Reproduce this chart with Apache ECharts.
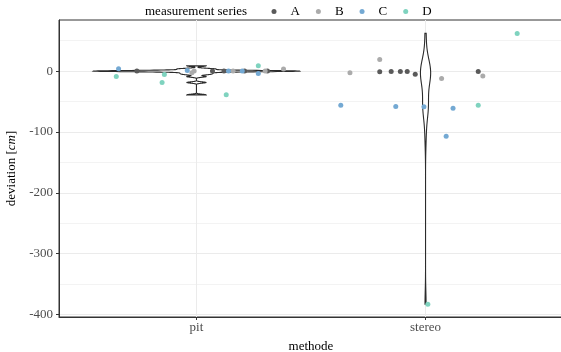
<!DOCTYPE html>
<html><head><meta charset="utf-8">
<script src="https://cdn.jsdelivr.net/npm/echarts@6/dist/echarts.min.js"></script>
<style>html,body{margin:0;padding:0;background:#fff}#c{width:561px;height:352px}</style>
</head><body><div id="c"></div>
<script>
const categories = ['pit', 'stereo'];
const seriesNames = ['A', 'B', 'C', 'D'];
const yTicks = [-400, -300, -200, -100, 0];
const yMinorTicks = [-350, -250, -150, -50, 50];

// method index (0 = pit, 1 = stereo), horizontal jitter (category units), deviation [cm]
const aMethod = [0, 0, 0, 0, 0, 1, 1, 1, 1, 1, 1];
const aJitter = [-0.26, 0.07, 0.12, 0.21, 0.31, -0.20, -0.15, -0.11, -0.08, -0.045, 0.23];
const aValue  = [0, 0, 0, 0, 0, -1, -0.7, -0.7, -0.7, -5, -0.7];

const bMethod = [0, 0, 0, 0, 0, 1, 1, 1, 1];
const bJitter = [-0.01, -0.02, 0.16, 0.30, 0.38, -0.33, -0.20, 0.07, 0.25];
const bValue  = [0, -2.5, 0, 0, 3.3, -2.8, 19, -12, -8];

const cMethod = [0, 0, 0, 0, 0, 1, 1, 1, 1, 1];
const cJitter = [-0.34, -0.04, 0.14, 0.20, 0.27, -0.37, -0.13, -0.007, 0.12, 0.09];
const cValue  = [3.8, 1, 0, 0, -4, -56, -58, -58.5, -61, -107];

const dMethod = [0, 0, 0, 0, 0, 1, 1, 1];
const dJitter = [-0.35, -0.14, -0.15, 0.13, 0.27, 0.40, 0.23, 0.01];
const dValue  = [-9, -5.6, -18.7, -39, 8.7, 62, -56, -383];

const colors = ['#5a5a5a', '#ababab', '#74a9d3', '#7fd3bf'];
const FONT = "'Liberation Serif', 'Times New Roman', serif";

const allSeries = [
  [aMethod, aJitter, aValue],
  [bMethod, bJitter, bValue],
  [cMethod, cJitter, cValue],
  [dMethod, dJitter, dValue]
];

// group values per method for the violins
const groups = categories.map(() => []);
allSeries.forEach(([m, j, v]) => m.forEach((g, i) => groups[g].push(v[i])));

function q7(s, p) { const h = (s.length - 1) * p, lo = Math.floor(h); const hi = Math.min(lo + 1, s.length - 1); return s[lo] + (h - lo) * (s[hi] - s[lo]); }
function nrd0(x) {
  const n = x.length, mean = x.reduce((a, b) => a + b, 0) / n;
  const sd = Math.sqrt(x.reduce((a, b) => a + (b - mean) * (b - mean), 0) / (n - 1));
  const s = [...x].sort((a, b) => a - b);
  let lo = Math.min(sd, (q7(s, 0.75) - q7(s, 0.25)) / 1.34);
  if (!lo) lo = sd || Math.abs(s[0]) || 1;
  return 0.9 * lo * Math.pow(n, -0.2);
}
function kde(x) {
  const bw = nrd0(x), mn = Math.min(...x), mx = Math.max(...x), out = [];
  for (let i = 0; i < 512; i++) {
    const y = mn + (mx - mn) * i / 511; let d = 0;
    for (const v of x) { const z = (y - v) / bw; d += Math.exp(-0.5 * z * z); }
    out.push([y, d / (x.length * bw * Math.sqrt(2 * Math.PI))]);
  }
  return out;
}
const dens = groups.map(kde);
const gmax = Math.max(...dens.map(d => Math.max(...d.map(p => p[1]))));
const outlines = dens.map((d, g) => {
  const c = g + 1, right = [], left = [];
  d.forEach(([y, v]) => { const w = v / gmax * 0.45; right.push([c + w, y]); left.push([c - w, y]); });
  return right.concat(left.reverse());
});

const chart = echarts.init(document.getElementById('c'), null, { renderer: 'canvas' });
const series = [{
  type: 'custom',
  xAxisIndex: 0, yAxisIndex: 0,
  data: categories.map((c, i) => [i + 1, 0]),
  z: 2,
  renderItem(params, api) {
    const pts = outlines[params.dataIndex].map(p => api.coord(p));
    return { type: 'polygon', shape: { points: pts }, style: { fill: '#ffffff', stroke: '#2b2b2b', lineWidth: 1.1 } };
  }
}];
allSeries.forEach(([m, j, v], k) => {
  series.push({
    name: seriesNames[k], type: 'scatter', xAxisIndex: 0, yAxisIndex: 0, z: 3,
    symbol: 'circle', symbolSize: 5,
    itemStyle: { color: colors[k], opacity: 1 },
    data: m.map((g, i) => [g + 1 + j[i], v[i]])
  });
});

chart.setOption({
  animation: false,
  backgroundColor: '#ffffff',
  textStyle: { fontFamily: FONT },
  grid: { left: 59, right: -2, top: 20, bottom: 35, containLabel: false, outerBoundsMode: 'none',
          show: true, borderColor: '#333333', borderWidth: 1, backgroundColor: 'transparent' },
  title: { text: 'measurement series', left: 145, top: 5, padding: 0,
           textStyle: { fontFamily: FONT, fontSize: 13, fontWeight: 'normal', color: '#000' } },
  legend: {
    data: seriesNames, left: 271.5, top: 5, padding: 0, icon: 'circle', itemWidth: 5, itemHeight: 5, itemGap: 16,
    textStyle: { fontFamily: FONT, fontSize: 13, color: '#000', padding: [0, 0, 0, 9] }
  },
  xAxis: {
    type: 'value', min: 0.4, max: 2.6,
    axisLine: { show: true, onZero: false, lineStyle: { color: '#333333', width: 1 } },
    axisTick: { show: true, length: 3, customValues: [1, 2], lineStyle: { color: '#333333' } },
    axisLabel: { customValues: [1, 2], formatter: v => categories[Math.round(v) - 1], color: '#4d4d4d', fontSize: 13, fontFamily: FONT, margin: 4 },
    splitLine: { show: true, lineStyle: { color: '#ebebeb', width: 1 } },
    name: 'methode', nameLocation: 'middle', nameGap: 23,
    nameTextStyle: { fontFamily: FONT, fontSize: 13, color: '#000' }
  },
  yAxis: [{
    type: 'value', min: -404, max: 84,
    axisLine: { show: true, onZero: false, lineStyle: { color: '#333333', width: 1 } },
    axisTick: { show: true, length: 3, customValues: yTicks, lineStyle: { color: '#333333' } },
    axisLabel: { customValues: yTicks, color: '#4d4d4d', fontSize: 13, fontFamily: FONT, margin: 6 },
    splitLine: { show: true, lineStyle: { color: '#ebebeb', width: 1 } },
    name: 'deviation [{i|cm}]', nameLocation: 'middle', nameGap: 36,
    nameTextStyle: { fontFamily: FONT, fontSize: 13, color: '#000', rich: { i: { fontStyle: 'italic', fontFamily: FONT, fontSize: 13 } } }
  }, {
    type: 'value', min: -404, max: 84, position: 'left',
    axisLine: { show: false }, axisLabel: { show: false },
    axisTick: { show: false, customValues: yMinorTicks },
    splitLine: { show: true, lineStyle: { color: '#f3f3f3', width: 1 } }
  }],
  series: series
});
</script></body></html>
